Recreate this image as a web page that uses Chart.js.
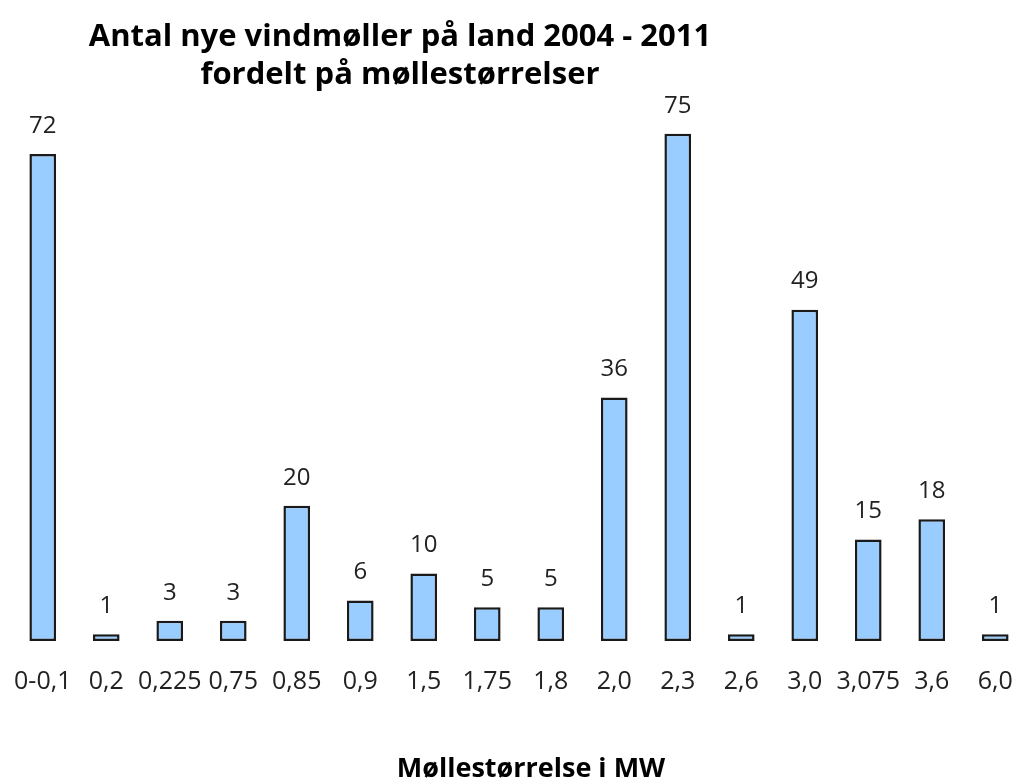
<!DOCTYPE html>
<html>
<head>
<meta charset="utf-8">
<script src="https://cdn.jsdelivr.net/npm/chart.js@4/dist/chart.umd.min.js"></script>
<style>
  html, body { margin: 0; padding: 0; background: #fff; }
  #wrap { width: 1027px; height: 783px; }
</style>
</head>
<body>
<div id="wrap"><canvas id="chart"></canvas></div>
<script>
const sizes = ["0-0,1", "0,2", "0,225", "0,75", "0,85", "0,9", "1,5", "1,75", "1,8", "2,0", "2,3", "2,6", "3,0", "3,075", "3,6", "6,0"]
const counts = [72, 1, 3, 3, 20, 6, 10, 5, 5, 36, 75, 1, 49, 15, 18, 1]
const titleLines = ["Antal nye vindmøller på land 2004 - 2011", "fordelt på møllestørrelser"]
const xTitle = "Møllestørrelse i MW"

const FONT = "'Open Sans', Lato, sans-serif"

// title, x-axis title and value labels are drawn by hand
const textPlugin = {
    id: 'texts',
    afterDatasetsDraw(chart) {
        const { ctx } = chart
        ctx.save()
        ctx.fillStyle = '#000'
        ctx.textAlign = 'center'
        ctx.textBaseline = 'middle'
        ctx.font = `bold 31px ${FONT}`
        ctx.fillText(titleLines[0], 400, 37)
        ctx.fillText(titleLines[1], 400, 75)
        ctx.font = `bold 27px ${FONT}`
        ctx.fillText(xTitle, 531, 769)

        ctx.fillStyle = '#222'
        ctx.font = `24px ${FONT}`
        const meta = chart.getDatasetMeta(0)
        meta.data.forEach((bar, i) => {
            ctx.fillText(String(counts[i]), bar.x, bar.y - 28)
        })
        ctx.restore()
    }
}

new Chart(document.getElementById('chart'), {
    type: 'bar',
    data: {
        labels: sizes,
        datasets: [{
            data: counts,
            backgroundColor: '#99ccff',
            borderColor: '#1a1a1a',
            borderWidth: 2.5,
            borderSkipped: false,
            barPercentage: 0.42,
            categoryPercentage: 1
        }]
    },
    options: {
        responsive: true,
        maintainAspectRatio: false,
        animation: false,
        layout: { padding: { top: 100, left: 11, right: 0, bottom: 0 } },
        plugins: {
            legend: { display: false },
            tooltip: { enabled: false },
            title: { display: false }
        },
        scales: {
            x: {
                grid: { display: false, drawTicks: true, tickLength: 26, tickColor: 'rgba(0,0,0,0)' },
                border: { display: false },
                ticks: {
                    color: '#222',
                    font: { family: FONT, size: 25 },
                    padding: 0,
                    maxRotation: 0,
                    autoSkip: false
                },
                afterFit(scale) { scale.height = 142 }
            },
            y: {
                display: false,
                min: 0,
                max: 80
            }
        }
    },
    plugins: [textPlugin]
})
</script>
</body>
</html>
